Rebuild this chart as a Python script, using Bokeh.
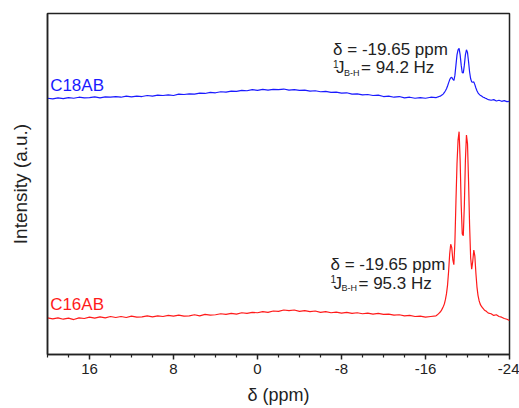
from bokeh.plotting import figure
from bokeh.models import Range1d, FixedTicker, Label
from bokeh.embed import file_html
from bokeh.resources import INLINE

# chemical shift (ppm) sample positions
shift = [20.0, 19.5, 19.0, 18.5, 18.0, 17.5, 17.0, 16.5, 16.0, 15.5, 15.0, 14.5, 14.0, 13.5,
         13.0, 12.5, 12.0, 11.5, 11.0, 10.5, 10.0, 9.5, 9.0, 8.5, 8.0, 7.5, 7.0, 6.5, 6.0, 5.5,
         5.0, 4.5, 4.0, 3.5, 3.0, 2.5, 2.0, 1.5, 1.0, 0.5, 0.0, -0.5, -1.0, -1.5, -2.0, -2.5,
         -3.0, -3.5, -4.0, -4.5, -5.0, -5.5, -6.0, -6.5, -7.0, -7.5, -8.0, -8.5, -9.0, -9.5,
         -10.0, -10.5, -11.0, -11.5, -12.0, -12.5, -13.0, -13.5, -14.0, -14.5, -15.0, -15.5,
         -16.0, -16.5, -17.0,
         -17.1, -17.2, -17.3, -17.4, -17.5, -17.6, -17.7, -17.8, -17.9, -18.0,
         -18.1, -18.2, -18.3, -18.4, -18.5, -18.6, -18.7, -18.8, -18.9, -19.0,
         -19.1, -19.2, -19.3, -19.4, -19.5, -19.6, -19.7, -19.8, -19.9, -20.0,
         -20.1, -20.2, -20.3, -20.4, -20.5, -20.6, -20.7, -20.8, -20.9, -21.0,
         -21.1, -21.2, -21.3, -21.4, -21.5, -21.6, -21.7, -21.8, -21.9, -22.0,
         -22.25, -22.5, -22.75, -23.0, -23.25, -23.5, -23.75, -24.0]

# C16AB intensity (a.u.)
c16ab = [-0.1, -0.4, -0.1, -0.5, -0.2, -0.6, -0.1, -0.3, 0.1, -0.2, 0.2, -0.1, 0.3, 0.0,
         0.3, 0.0, 0.4, 0.1, 0.2, 0.5, 0.2, 0.5, 0.3, 0.6, 0.4, 0.7, 0.4, 0.5, 0.8, 0.5,
         0.9, 0.7, 0.8, 1.1, 0.9, 1.2, 1.0, 1.4, 1.2, 1.5, 1.4, 1.7, 1.5, 1.9, 1.8, 2.2,
         2.0, 2.2, 1.8, 2.0, 1.7, 1.9, 1.5, 1.7, 1.4, 1.6, 1.3, 1.5, 1.2, 1.4,
         1.1, 1.3, 1.0, 1.2, 0.9, 1.0, 0.7, 0.8, 0.5, 0.6, 0.3, 0.4,
         0.1, 0.3, 0.5,
         0.7, 1.0, 1.3, 1.6, 2.0, 2.6, 3.2, 4.0, 5.3, 7.0,
         9.5, 13.5, 18.5, 21.5, 20.5, 17.0, 15.5, 22.0, 34.0, 45.0,
         52.0, 54.5, 46.0, 33.0, 24.5, 24.0, 33.0, 46.0, 53.5, 51.0,
         40.0, 27.0, 17.5, 14.2, 16.5, 19.8, 18.0, 13.0, 9.0, 6.5,
         5.0, 4.0, 3.4, 3.0, 2.6, 2.2, 2.0, 1.8, 1.5, 1.3,
         1.1, 0.6, 0.8, 0.3, 0.1, -0.3, -0.5, -0.9]

# C18AB intensity (a.u.)
c18ab = [-0.2, -0.4, -0.1, -0.3, 0.0, -0.2, 0.1, -0.1, 0.0, 0.2, -0.1, 0.2, 0.1, 0.3,
         0.1, 0.4, 0.2, 0.4, 0.3, 0.6, 0.4, 0.7, 0.6, 0.8, 0.6, 1.0, 0.9, 1.1, 1.0, 1.3,
         1.2, 1.5, 1.4, 1.7, 1.6, 1.9, 1.8, 2.1, 2.0, 2.3, 2.1, 2.4, 2.2, 2.4, 2.3, 2.5,
         2.2, 2.3, 2.1, 2.2, 1.9, 2.0, 1.7, 1.8, 1.5, 1.6, 1.3, 1.4, 1.0, 1.1,
         0.8, 0.9, 0.6, 0.7, 0.3, 0.4, 0.1, 0.3, -0.1, 0.1, -0.2, 0.0,
         -0.2, 0.1, 0.0,
         0.1, 0.2, 0.3, 0.4, 0.6, 0.8, 1.1, 1.5, 2.0, 2.6,
         3.4, 4.3, 5.2, 5.8, 5.9, 5.4, 5.0, 6.5, 9.5, 12.5,
         14.0, 14.4, 12.5, 9.5, 7.3, 7.2, 9.5, 12.5, 14.0, 13.2,
         10.5, 7.5, 5.5, 4.6, 4.5, 4.6, 3.8, 2.8, 2.0, 1.4,
         1.0, 0.7, 0.5, 0.3, 0.1, 0.0, -0.2, -0.3, -0.5, -0.6,
         -0.8, -0.6, -1.0, -0.8, -1.1, -0.9, -1.2, -1.1]

c18ab_offset = 64.5  # vertical stacking offset of the upper spectrum

x_major = [16, 8, 0, -8, -16, -24]
x_major_labels = ["16", "8", "0", "-8", "-16", "-24"]
x_minor = [20, 18, 14, 12, 10, 6, 4, 2, -2, -4, -6, -10, -12, -14, -18, -20, -22]

FONT = "Liberation Sans"
INK = "#222222"
BLUE = "#1a1aff"
RED = "#ff1a1a"

p = figure(width=519, height=408, output_backend="svg", toolbar_location=None,
           x_range=Range1d(20, -24), y_range=Range1d(-10.85, 89.15),
           min_border_left=47, min_border_right=10, min_border_top=13, min_border_bottom=54)

p.background_fill_color = "white"
p.border_fill_color = "white"
p.outline_line_color = INK
p.outline_line_width = 1.5
p.xgrid.visible = False
p.ygrid.visible = False

p.line(shift, c16ab, line_color=RED, line_width=1.2)
p.line(shift, [v + c18ab_offset for v in c18ab], line_color=BLUE, line_width=1.2)

xa = p.xaxis[0]
xa.ticker = FixedTicker(ticks=x_major, minor_ticks=x_minor)
xa.major_label_overrides = {t: s for t, s in zip(x_major, x_major_labels)}
xa.axis_label = "\u03b4 (ppm)"
xa.axis_label_text_font = FONT
xa.axis_label_text_font_size = "18px"
xa.axis_label_text_font_style = "normal"
xa.axis_label_text_color = INK
xa.axis_label_standoff = 8
xa.major_label_text_font = FONT
xa.major_label_text_font_size = "15px"
xa.major_label_text_color = INK
xa.major_label_standoff = 4
xa.axis_line_color = INK
xa.axis_line_width = 1.5
xa.major_tick_line_color = INK
xa.major_tick_line_width = 1.5
xa.major_tick_out = 5
xa.major_tick_in = 0
xa.minor_tick_line_color = INK
xa.minor_tick_line_width = 1.2
xa.minor_tick_out = 3
xa.minor_tick_in = 0

ya = p.yaxis[0]
ya.ticker = FixedTicker(ticks=[])
ya.axis_label = "Intensity (a.u.)"
ya.axis_label_text_font = FONT
ya.axis_label_text_font_size = "19px"
ya.axis_label_text_font_style = "normal"
ya.axis_label_text_color = INK
ya.axis_label_standoff = 17
ya.major_label_text_font_size = "0px"
ya.major_tick_line_color = None
ya.minor_tick_line_color = None
ya.axis_line_color = INK
ya.axis_line_width = 1.5

# series names
p.add_layout(Label(x=19.75, y=68.0, text="C18AB", text_color=BLUE, text_font=FONT,
                   text_font_size="17px", text_baseline="middle", text_align="left"))
p.add_layout(Label(x=19.75, y=3.9, text="C16AB", text_color=RED, text_font=FONT,
                   text_font_size="17px", text_baseline="middle", text_align="left"))


def annot(x, y1, y2, shift_txt, j_txt):
    p.add_layout(Label(x=x, y=y1, text=shift_txt, text_color=INK, text_font=FONT,
                       text_font_size="17px", text_baseline="middle", text_align="left"))
    p.add_layout(Label(x=x, y=y2, text="1", y_offset=4, text_color=INK, text_font=FONT,
                       text_font_size="10px", text_baseline="middle", text_align="left"))
    p.add_layout(Label(x=x, y=y2, text="J", x_offset=3, text_color=INK, text_font=FONT,
                       text_font_size="17px", text_baseline="middle", text_align="left"))
    p.add_layout(Label(x=x, y=y2, text="B-H", x_offset=11, y_offset=-5, text_color=INK,
                       text_font=FONT, text_font_size="9px", text_baseline="middle",
                       text_align="left"))
    p.add_layout(Label(x=x, y=y2, text="= " + j_txt, x_offset=28, text_color=INK,
                       text_font=FONT, text_font_size="17px", text_baseline="middle",
                       text_align="left"))


annot(-7.2, 78.7, 73.3, "\u03b4 = -19.65 ppm", "94.2 Hz")
annot(-6.95, 15.5, 10.1, "\u03b4 = -19.65 ppm", "95.3 Hz")

open("out.html", "w").write(file_html(p, INLINE))
